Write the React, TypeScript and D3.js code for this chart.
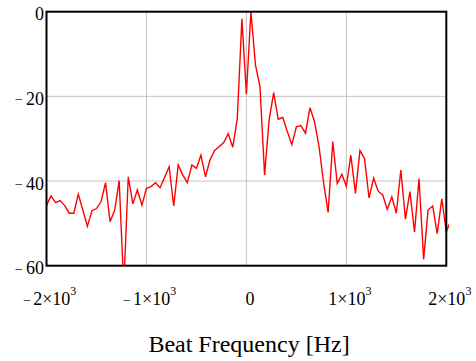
import React from "react";
import * as d3 from "d3";

const freqHz = [-2000,-1955,-1909,-1864,-1818,-1773,-1727,-1682,-1636,-1591,-1545,-1500,-1455,-1409,-1364,-1318,-1273,-1227,-1182,-1136,-1091,-1045,-1000,-955,-909,-864,-818,-773,-727,-682,-636,-591,-545,-500,-455,-409,-364,-318,-273,-227,-182,-136,-91,-45,0,45,91,136,182,227,273,318,364,409,455,500,545,591,636,682,727,773,818,864,909,955,1000,1045,1091,1136,1182,1227,1273,1318,1364,1409,1455,1500,1545,1591,1636,1682,1727,1773,1818,1864,1909,1955,2000,2045];

const powerDb = [-45.8,-43.5,-45.1,-44.6,-45.8,-47.6,-47.6,-43.1,-46.9,-50.7,-47.0,-46.5,-44.9,-40.4,-49.6,-46.9,-39.9,-65,-39.0,-45.4,-42.1,-45.7,-41.7,-41.3,-40.4,-41.6,-39.1,-36.6,-45.9,-36.2,-38.6,-40.4,-36.2,-37.0,-33.9,-39.0,-35.0,-32.8,-31.9,-30.9,-28.8,-32.0,-25.2,-1.7,-19.5,0,-12.6,-17.7,-38.6,-25.6,-19.1,-25.4,-25.0,-28.3,-31.4,-27.2,-26.9,-28.7,-22.7,-26.0,-31.9,-40.5,-47.4,-30.7,-40.6,-38.4,-41.2,-33.9,-42.9,-32.8,-34.7,-44.0,-39.3,-42.4,-43.3,-46.7,-43.7,-47.6,-37.4,-49.0,-42.5,-52.0,-39.4,-58.5,-46.8,-45.9,-52.4,-44.2,-52.0,-49.3];

const xTicks = [-2000, -1000, 0, 1000, 2000];
const xTickMantissa = ["2", "1", "0", "1", "2"];
const xGrid = [-1000, 0, 1000];
const yTicks = [0, -20, -40, -60];
const yGrid = [-20, -40];
const xTitle = "Beat Frequency [Hz]";

const W = 476, H = 361;
const L = 46.5, R = 446.3, T = 11.7, B = 265.7;

export default function App() {
  const x = d3.scaleLinear().domain([-2000, 2000]).range([L, R]);
  const y = d3.scaleLinear().domain([0, -60]).range([T, B]);
  const data = freqHz.map((f, i) => [f, powerDb[i]] as [number, number]);
  const line = d3.line<[number, number]>().x(d => x(d[0])).y(d => y(d[1]));
  const txt = { fontFamily: "Liberation Serif" };

  return (
    <svg width={W} height={H} style={{ position: "absolute", left: 0, top: 0, background: "#fff" }}>
      <defs>
        <clipPath id="plotclip">
          <rect x={L} y={T - 1} width={449 - L} height={B - T + 1} />
        </clipPath>
      </defs>
      {xGrid.map(v => (
        <line key={"xg" + v} x1={x(v)} x2={x(v)} y1={T} y2={B} stroke="#c4c4c4" strokeWidth={1} />
      ))}
      {yGrid.map(v => (
        <line key={"yg" + v} x1={L} x2={R} y1={y(v)} y2={y(v)} stroke="#c4c4c4" strokeWidth={1} />
      ))}
      <path d={line(data) || ""} fill="none" stroke="#ff0000" strokeWidth={1.4} clipPath="url(#plotclip)" />
      <rect x={L} y={T} width={R - L} height={B - T} fill="none" stroke="#000" strokeWidth={2} />
      {yTicks.map(v => (
        <text key={"yt" + v} x={44} y={y(v) + 8.5} textAnchor="end" style={txt} fontSize={18} fill="#000">
          {v < 0 ? <tspan fontSize={13} dy={-2.5}>{"\u2013"}</tspan> : null}
          {v < 0 ? <tspan dx={4} dy={2.5}>{String(Math.abs(v))}</tspan> : <tspan>{"0"}</tspan>}
        </text>
      ))}
      {xTicks.map((v, i) => (
        <text key={"xt" + v} x={x(v) + 3.5} y={305} textAnchor="middle" style={txt} fontSize={18} fill="#000">
          {v < 0 ? <tspan fontSize={13} dy={-2.5}>{"\u2013"}</tspan> : null}
          {v === 0 ? <tspan>{"0"}</tspan> : (
            <>
              <tspan dx={v < 0 ? 3 : 0} dy={v < 0 ? 2.5 : 0}>{xTickMantissa[i] + "\u00d710"}</tspan>
              <tspan fontSize={12} dy={-10}>{"3"}</tspan>
            </>
          )}
        </text>
      ))}
      <text x={249} y={352} textAnchor="middle" style={txt} fontSize={24} fill="#000">{xTitle}</text>
    </svg>
  );
}
